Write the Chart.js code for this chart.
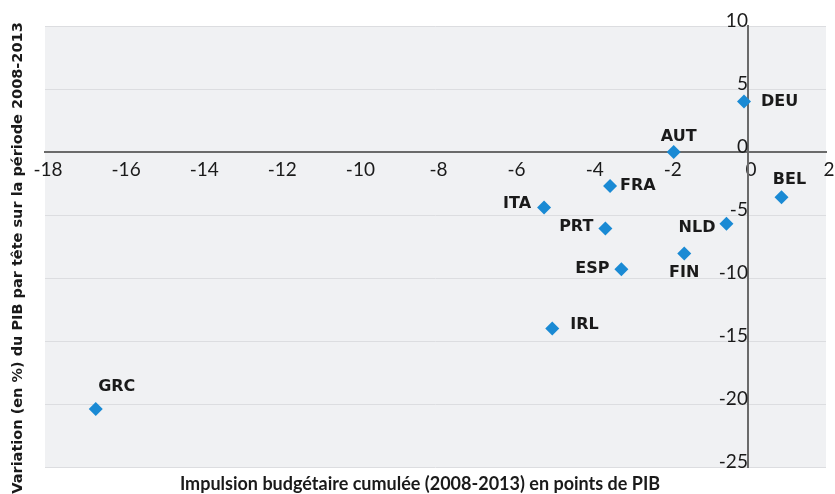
<!DOCTYPE html>
<html>
<head>
<meta charset="utf-8">
<script src="https://cdn.jsdelivr.net/npm/chart.js@4.4.1/dist/chart.umd.min.js"></script>
<style>
  html, body { margin: 0; padding: 0; background: #ffffff; }
  #wrap { width: 835px; height: 494px; position: relative; }
</style>
</head>
<body>
<div id="wrap"><canvas id="c" width="835" height="494"></canvas></div>
<script>
// ---- data ----
const countries = ['DEU', 'AUT', 'BEL', 'NLD', 'FIN', 'FRA', 'ITA', 'PRT', 'ESP', 'IRL', 'GRC'];
const impulse   = [-0.1, -1.9, 0.86, -0.55, -1.63, -3.53, -5.22, -3.65, -3.24, -5.01, -16.7];
const gdpChange = [4.0, 0.0, -3.6, -5.7, -8.05, -2.7, -4.4, -6.07, -9.3, -14.0, -20.4];
const xTickValues = [-18, -16, -14, -12, -10, -8, -6, -4, -2, 0, 2];
const yTickValues = [-25, -20, -15, -10, -5, 0, 5, 10];
const xTitle = 'Impulsion budgétaire cumulée (2008-2013) en points de PIB';
const yTitle = 'Variation (en %) du PIB par tête sur la période 2008-2013';

// ---- label placement (style, not data) ----
const labelPlacement = {
  DEU: ['left', 17, 0],
  AUT: ['center', 5, -15],
  BEL: ['center', 8, -18],
  NLD: ['right', -11, 4],
  FIN: ['center', 0, 19],
  FRA: ['left', 10, 0],
  ITA: ['right', -13, -4],
  PRT: ['right', -12, -2],
  ESP: ['right', -12, 0],
  IRL: ['left', 18, -4],
  GRC: ['center', 21, -22]
};

const points = countries.map((c, i) => ({ x: impulse[i], y: gdpChange[i], label: c }));

const bgPlugin = {
  id: 'bg',
  beforeDraw(chart) {
    const { ctx, chartArea: a } = chart;
    ctx.save();
    ctx.fillStyle = '#f0f1f3';
    ctx.fillRect(a.left, a.top, a.right - a.left, a.bottom - a.top);
    ctx.restore();
  }
};

const labelPlugin = {
  id: 'labels',
  afterDatasetsDraw(chart) {
    const { ctx } = chart;
    const meta = chart.getDatasetMeta(0);
    ctx.save();
    ctx.font = 'bold 16px "DejaVu Sans"';
    ctx.fillStyle = '#1a1a1a';
    ctx.textBaseline = 'middle';
    meta.data.forEach((el, i) => {
      const name = countries[i];
      const p = labelPlacement[name];
      ctx.textAlign = p[0];
      ctx.fillText(name, el.x + p[1], el.y + p[2]);
    });
    ctx.restore();
  }
};

const titlePlugin = {
  id: 'axisTitles',
  afterDraw(chart) {
    const { ctx } = chart;
    ctx.save();
    ctx.fillStyle = '#1a1a1a';
    ctx.textBaseline = 'middle';
    ctx.textAlign = 'center';
    ctx.font = 'bold 18px Lato';
    ctx.fillText(xTitle, 420, 484);
    ctx.translate(18, 258);
    ctx.rotate(-Math.PI / 2);
    ctx.font = 'bold 14.5px "DejaVu Sans"';
    ctx.fillText(yTitle, 0, 0);
    ctx.restore();
  }
};

new Chart(document.getElementById('c'), {
  type: 'scatter',
  data: {
    datasets: [{
      data: points,
      pointStyle: 'rectRot',
      pointRadius: 7,
      pointHoverRadius: 7,
      backgroundColor: '#1a8ad4',
      borderColor: '#1a8ad4',
      borderWidth: 0
    }]
  },
  options: {
    responsive: false,
    animation: false,
    devicePixelRatio: 1,
    layout: { padding: { left: 45, right: 9, top: 26, bottom: 27 } },
    plugins: {
      legend: { display: false },
      tooltip: { enabled: false },
      title: { display: false }
    },
    scales: {
      x: {
        type: 'linear',
        position: { y: 0 },
        min: -18,
        max: 2,
        afterBuildTicks(scale) { scale.ticks = xTickValues.map(v => ({ value: v })); },
        afterFit(scale) {
          scale.height = 0;
          scale.paddingLeft = 0; scale.paddingRight = 0;
          scale.paddingTop = 0; scale.paddingBottom = 0;
        },
        grid: { display: true, color: 'rgba(0,0,0,0)', drawTicks: false },
        border: { display: true, color: '#6a6a6a', width: 2 },
        ticks: {
          padding: 6,
          labelOffset: 3,
          color: '#1a1a1a',
          font: { family: 'Lato', size: 19 },
          maxRotation: 0,
          autoSkip: false
        }
      },
      y: {
        type: 'linear',
        position: { x: 0 },
        min: -25,
        max: 10,
        afterBuildTicks(scale) { scale.ticks = yTickValues.map(v => ({ value: v })); },
        afterFit(scale) {
          scale.width = 0;
          scale.paddingLeft = 0; scale.paddingRight = 0;
          scale.paddingTop = 0; scale.paddingBottom = 0;
        },
        grid: { display: true, color: '#dcdde0', lineWidth: 1, drawTicks: false },
        border: { display: true, color: '#6a6a6a', width: 2 },
        ticks: {
          padding: 3,
          labelOffset: -5,
          color: '#1a1a1a',
          font: { family: 'Lato', size: 19 },
          autoSkip: false
        }
      }
    }
  },
  plugins: [bgPlugin, labelPlugin, titlePlugin]
});
</script>
</body>
</html>
